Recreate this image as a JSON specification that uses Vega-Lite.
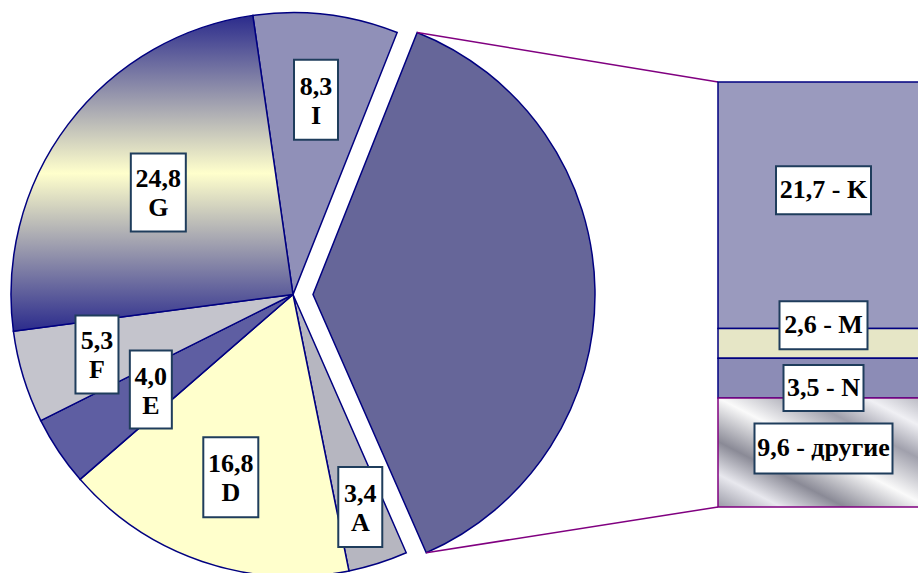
{
  "$schema": "https://vega.github.io/schema/vega-lite/v6.json",
  "width": 918,
  "height": 573,
  "autosize": {"type": "none"},
  "padding": 0,
  "background": "white",
  "config": {"view": {"stroke": null}},
  "datasets": {
    "shares": [
      {"cat": "I", "grp": "I", "ord": 1, "v": 8.3},
      {"cat": "K", "grp": "rest", "ord": 2, "bord": 1, "v": 21.7},
      {"cat": "M", "grp": "rest", "ord": 2, "bord": 2, "v": 2.6},
      {"cat": "N", "grp": "rest", "ord": 2, "bord": 3, "v": 3.5},
      {"cat": "другие", "grp": "rest", "ord": 2, "bord": 4, "v": 9.6},
      {"cat": "A", "grp": "A", "ord": 3, "v": 3.4},
      {"cat": "D", "grp": "D", "ord": 4, "v": 16.8},
      {"cat": "E", "grp": "E", "ord": 5, "v": 4.0},
      {"cat": "F", "grp": "F", "ord": 6, "v": 5.3},
      {"cat": "G", "grp": "G", "ord": 7, "v": 24.8}
    ]
  },
  "data": {"name": "shares"},
  "layer": [
    {
      "transform": [
        {"aggregate": [{"op": "sum", "field": "v", "as": "v"}, {"op": "min", "field": "ord", "as": "ord"}], "groupby": ["grp"]},
        {"stack": "v", "groupby": [], "sort": [{"field": "ord", "order": "ascending"}], "as": ["s0", "s1"]},
        {"calculate": "-0.1431 + datum.s0 / 50 * PI", "as": "a0"},
        {"calculate": "-0.1431 + datum.s1 / 50 * PI", "as": "a1"},
        {"calculate": "(datum.a0 + datum.a1) / 2", "as": "am"},
        {"calculate": "replace(format(datum.v, '.1f'), '.', ',') + '\\n' + datum.grp", "as": "label"}
      ],
      "layer": [
        {
          "transform": [{"filter": "datum.grp !== 'rest' && datum.grp !== 'G'"}],
          "mark": {"type": "arc", "radius": 282, "stroke": "#000080", "strokeWidth": 1.5},
          "encoding": {
            "x": {"datum": 293, "type": "quantitative", "scale": {"domain": [0, 918], "nice": false, "zero": false}, "axis": null},
            "y": {"datum": 18.7, "type": "quantitative", "scale": {"domain": [-5.808, 44.615], "nice": false, "zero": false}, "axis": null},
            "theta": {"field": "s0", "type": "quantitative", "stack": null, "scale": {"domain": [0, 100], "range": [-0.1431, 6.1401]}},
            "theta2": {"field": "s1"},
            "color": {"field": "grp", "type": "nominal", "scale": {"domain": ["I", "A", "D", "E", "F"], "range": ["#9090b8", "#b6b6c0", "#ffffcc", "#5e5ea2", "#c4c4cc"]}, "legend": null}
          }
        },
        {
          "transform": [{"filter": "datum.grp === 'G'"}],
          "mark": {
            "type": "arc", "radius": 282, "stroke": "#000080", "strokeWidth": 1.5,
            "color": {"gradient": "linear", "x1": 0, "y1": 0, "x2": 0, "y2": 1,
              "stops": [{"offset": 0, "color": "#2b2b8c"}, {"offset": 0.5, "color": "#ffffcc"}, {"offset": 1, "color": "#2b2b8c"}]}
          },
          "encoding": {
            "x": {"datum": 293, "type": "quantitative", "scale": {"domain": [0, 918], "nice": false, "zero": false}, "axis": null},
            "y": {"datum": 18.7, "type": "quantitative", "scale": {"domain": [-5.808, 44.615], "nice": false, "zero": false}, "axis": null},
            "theta": {"field": "s0", "type": "quantitative", "stack": null, "scale": {"domain": [0, 100], "range": [-0.1431, 6.1401]}},
            "theta2": {"field": "s1"}
          }
        },
        {
          "transform": [{"filter": "datum.grp === 'rest'"}],
          "mark": {"type": "arc", "radius": 282, "stroke": "#000080", "strokeWidth": 1.5, "color": "#666699"},
          "encoding": {
            "x": {"datum": 313, "type": "quantitative", "scale": {"domain": [0, 918], "nice": false, "zero": false}, "axis": null},
            "y": {"datum": 18.7, "type": "quantitative", "scale": {"domain": [-5.808, 44.615], "nice": false, "zero": false}, "axis": null},
            "theta": {"field": "s0", "type": "quantitative", "stack": null, "scale": {"domain": [0, 100], "range": [-0.1431, 6.1401]}},
            "theta2": {"field": "s1"}
          }
        },
        {
          "transform": [
            {"filter": "datum.grp === 'rest'"},
            {"calculate": "313 + 282 * sin(datum.a0)", "as": "ex"},
            {"calculate": "18.7 + 282 * cos(datum.a0) / 11.364", "as": "ey"}
          ],
          "mark": {"type": "rule", "stroke": "#800080", "strokeWidth": 1.5},
          "encoding": {
            "x": {"field": "ex", "type": "quantitative", "scale": {"domain": [0, 918], "nice": false, "zero": false}, "axis": null},
            "y": {"field": "ey", "type": "quantitative", "scale": {"domain": [-5.808, 44.615], "nice": false, "zero": false}, "axis": null},
            "x2": {"datum": 718},
            "y2": {"field": "v"}
          }
        },
        {
          "transform": [
            {"filter": "datum.grp === 'rest'"},
            {"calculate": "313 + 282 * sin(datum.a1)", "as": "ex"},
            {"calculate": "18.7 + 282 * cos(datum.a1) / 11.364", "as": "ey"}
          ],
          "mark": {"type": "rule", "stroke": "#800080", "strokeWidth": 1.5},
          "encoding": {
            "x": {"field": "ex", "type": "quantitative", "scale": {"domain": [0, 918], "nice": false, "zero": false}, "axis": null},
            "y": {"field": "ey", "type": "quantitative", "scale": {"domain": [-5.808, 44.615], "nice": false, "zero": false}, "axis": null},
            "x2": {"datum": 718},
            "y2": {"datum": 0}
          }
        },
        {
          "transform": [
            {"filter": "datum.grp !== 'rest'"},
            {"calculate": "datum.grp === 'I' ? 196 : datum.grp === 'G' ? 169 : datum.grp === 'F' ? 205 : datum.grp === 'E' ? 171 : datum.grp === 'D' ? 193 : 223", "as": "lr"},
            {"calculate": "293 + datum.lr * sin(datum.am)", "as": "lx"},
            {"calculate": "18.7 + datum.lr * cos(datum.am) / 11.364", "as": "ly"}
          ],
          "layer": [
            {
              "mark": {"type": "point", "filled": true, "fill": "white", "stroke": "#1f3d5c", "strokeWidth": 2, "opacity": 1, "size": 400},
              "encoding": {
                "x": {"field": "lx", "type": "quantitative", "scale": {"domain": [0, 918], "nice": false, "zero": false}, "axis": null},
                "y": {"field": "ly", "type": "quantitative", "scale": {"domain": [-5.808, 44.615], "nice": false, "zero": false}, "axis": null},
                "shape": {"field": "grp", "type": "nominal", "legend": null,
                  "scale": {"domain": ["I", "A", "D", "E", "F", "G"],
                    "range": ["M-2.2,-4H2.2V4H-2.2Z", "M-2.2,-4H2.2V4H-2.2Z", "M-2.75,-4H2.75V4H-2.75Z", "M-2.1,-3.9H2.1V3.9H-2.1Z", "M-2.15,-3.9H2.15V3.9H-2.15Z", "M-2.75,-3.9H2.75V3.9H-2.75Z"]}}
              }
            },
            {
              "mark": {"type": "text", "font": "Liberation Serif, Times New Roman, serif", "fontWeight": "bold", "fontSize": 26, "lineBreak": "\n", "lineHeight": 29, "align": "center", "baseline": "middle", "dy": -13, "color": "black"},
              "encoding": {
                "x": {"field": "lx", "type": "quantitative", "scale": {"domain": [0, 918], "nice": false, "zero": false}, "axis": null},
                "y": {"field": "ly", "type": "quantitative", "scale": {"domain": [-5.808, 44.615], "nice": false, "zero": false}, "axis": null},
                "text": {"field": "label"}
              }
            }
          ]
        }
      ]
    },
    {
      "transform": [
        {"filter": "datum.grp === 'rest'"},
        {"stack": "v", "groupby": [], "sort": [{"field": "bord", "order": "descending"}], "as": ["b0", "b1"]},
        {"calculate": "(datum.b0 + datum.b1) / 2", "as": "bm"},
        {"calculate": "replace(format(datum.v, '.1f'), '.', ',') + ' - ' + datum.cat", "as": "label"}
      ],
      "layer": [
        {
          "transform": [{"filter": "datum.cat !== 'другие'"}],
          "mark": {"type": "rect", "stroke": "#000080", "strokeWidth": 1.5},
          "encoding": {
            "x": {"datum": 718, "type": "quantitative", "scale": {"domain": [0, 918], "nice": false, "zero": false}, "axis": null},
            "x2": {"datum": 929},
            "y": {"field": "b0", "type": "quantitative", "scale": {"domain": [-5.808, 44.615], "nice": false, "zero": false}, "axis": null},
            "y2": {"field": "b1"},
            "color": {"field": "cat", "type": "nominal", "legend": null, "scale": {"domain": ["K", "M", "N"], "range": ["#9a9abe", "#e6e6c6", "#8c8cb6"]}}
          }
        },
        {
          "transform": [{"filter": "datum.cat === 'другие'"}],
          "mark": {
            "type": "rect", "stroke": "#800080", "strokeWidth": 1.5,
            "color": {"gradient": "linear", "x1": 0, "y1": 1, "x2": 1, "y2": 0,
              "stops": [
                {"offset": 0, "color": "#9a9aa6"},
                {"offset": 0.15, "color": "#e8e8ee"},
                {"offset": 0.3, "color": "#8a8a96"},
                {"offset": 0.5, "color": "#fafafa"},
                {"offset": 0.7, "color": "#a0a0ac"},
                {"offset": 0.85, "color": "#f0f0f4"},
                {"offset": 1, "color": "#b0b0ba"}
              ]}
          },
          "encoding": {
            "x": {"datum": 718, "type": "quantitative", "scale": {"domain": [0, 918], "nice": false, "zero": false}, "axis": null},
            "x2": {"datum": 929},
            "y": {"field": "b0", "type": "quantitative", "scale": {"domain": [-5.808, 44.615], "nice": false, "zero": false}, "axis": null},
            "y2": {"field": "b1"}
          }
        },
        {
          "mark": {"type": "point", "filled": true, "fill": "white", "stroke": "#1f3d5c", "strokeWidth": 2, "opacity": 1, "size": 400,
            "yOffset": {"expr": "datum.cat === 'K' ? -15 : datum.cat === 'M' ? -18 : datum.cat === 'N' ? 10 : -4"}},
          "encoding": {
            "x": {"datum": 823.5, "type": "quantitative", "scale": {"domain": [0, 918], "nice": false, "zero": false}, "axis": null},
            "y": {"field": "bm", "type": "quantitative", "scale": {"domain": [-5.808, 44.615], "nice": false, "zero": false}, "axis": null},
            "shape": {"field": "cat", "type": "nominal", "legend": null,
              "scale": {"domain": ["K", "M", "N", "другие"],
                "range": ["M-4.75,-2.4H4.75V2.4H-4.75Z", "M-4.4,-2.4H4.4V2.4H-4.4Z", "M-4,-2.3H4V2.3H-4Z", "M-6.9,-2.5H6.9V2.5H-6.9Z"]}}
          }
        },
        {
          "mark": {"type": "text", "font": "Liberation Serif, Times New Roman, serif", "fontWeight": "bold", "fontSize": 26, "align": "center", "baseline": "middle", "color": "black",
            "yOffset": {"expr": "datum.cat === 'K' ? -15 : datum.cat === 'M' ? -18 : datum.cat === 'N' ? 10 : -4"}},
          "encoding": {
            "x": {"datum": 823.5, "type": "quantitative", "scale": {"domain": [0, 918], "nice": false, "zero": false}, "axis": null},
            "y": {"field": "bm", "type": "quantitative", "scale": {"domain": [-5.808, 44.615], "nice": false, "zero": false}, "axis": null},
            "text": {"field": "label"}
          }
        }
      ]
    }
  ],
  "resolve": {"scale": {"color": "independent", "shape": "independent"}}
}
